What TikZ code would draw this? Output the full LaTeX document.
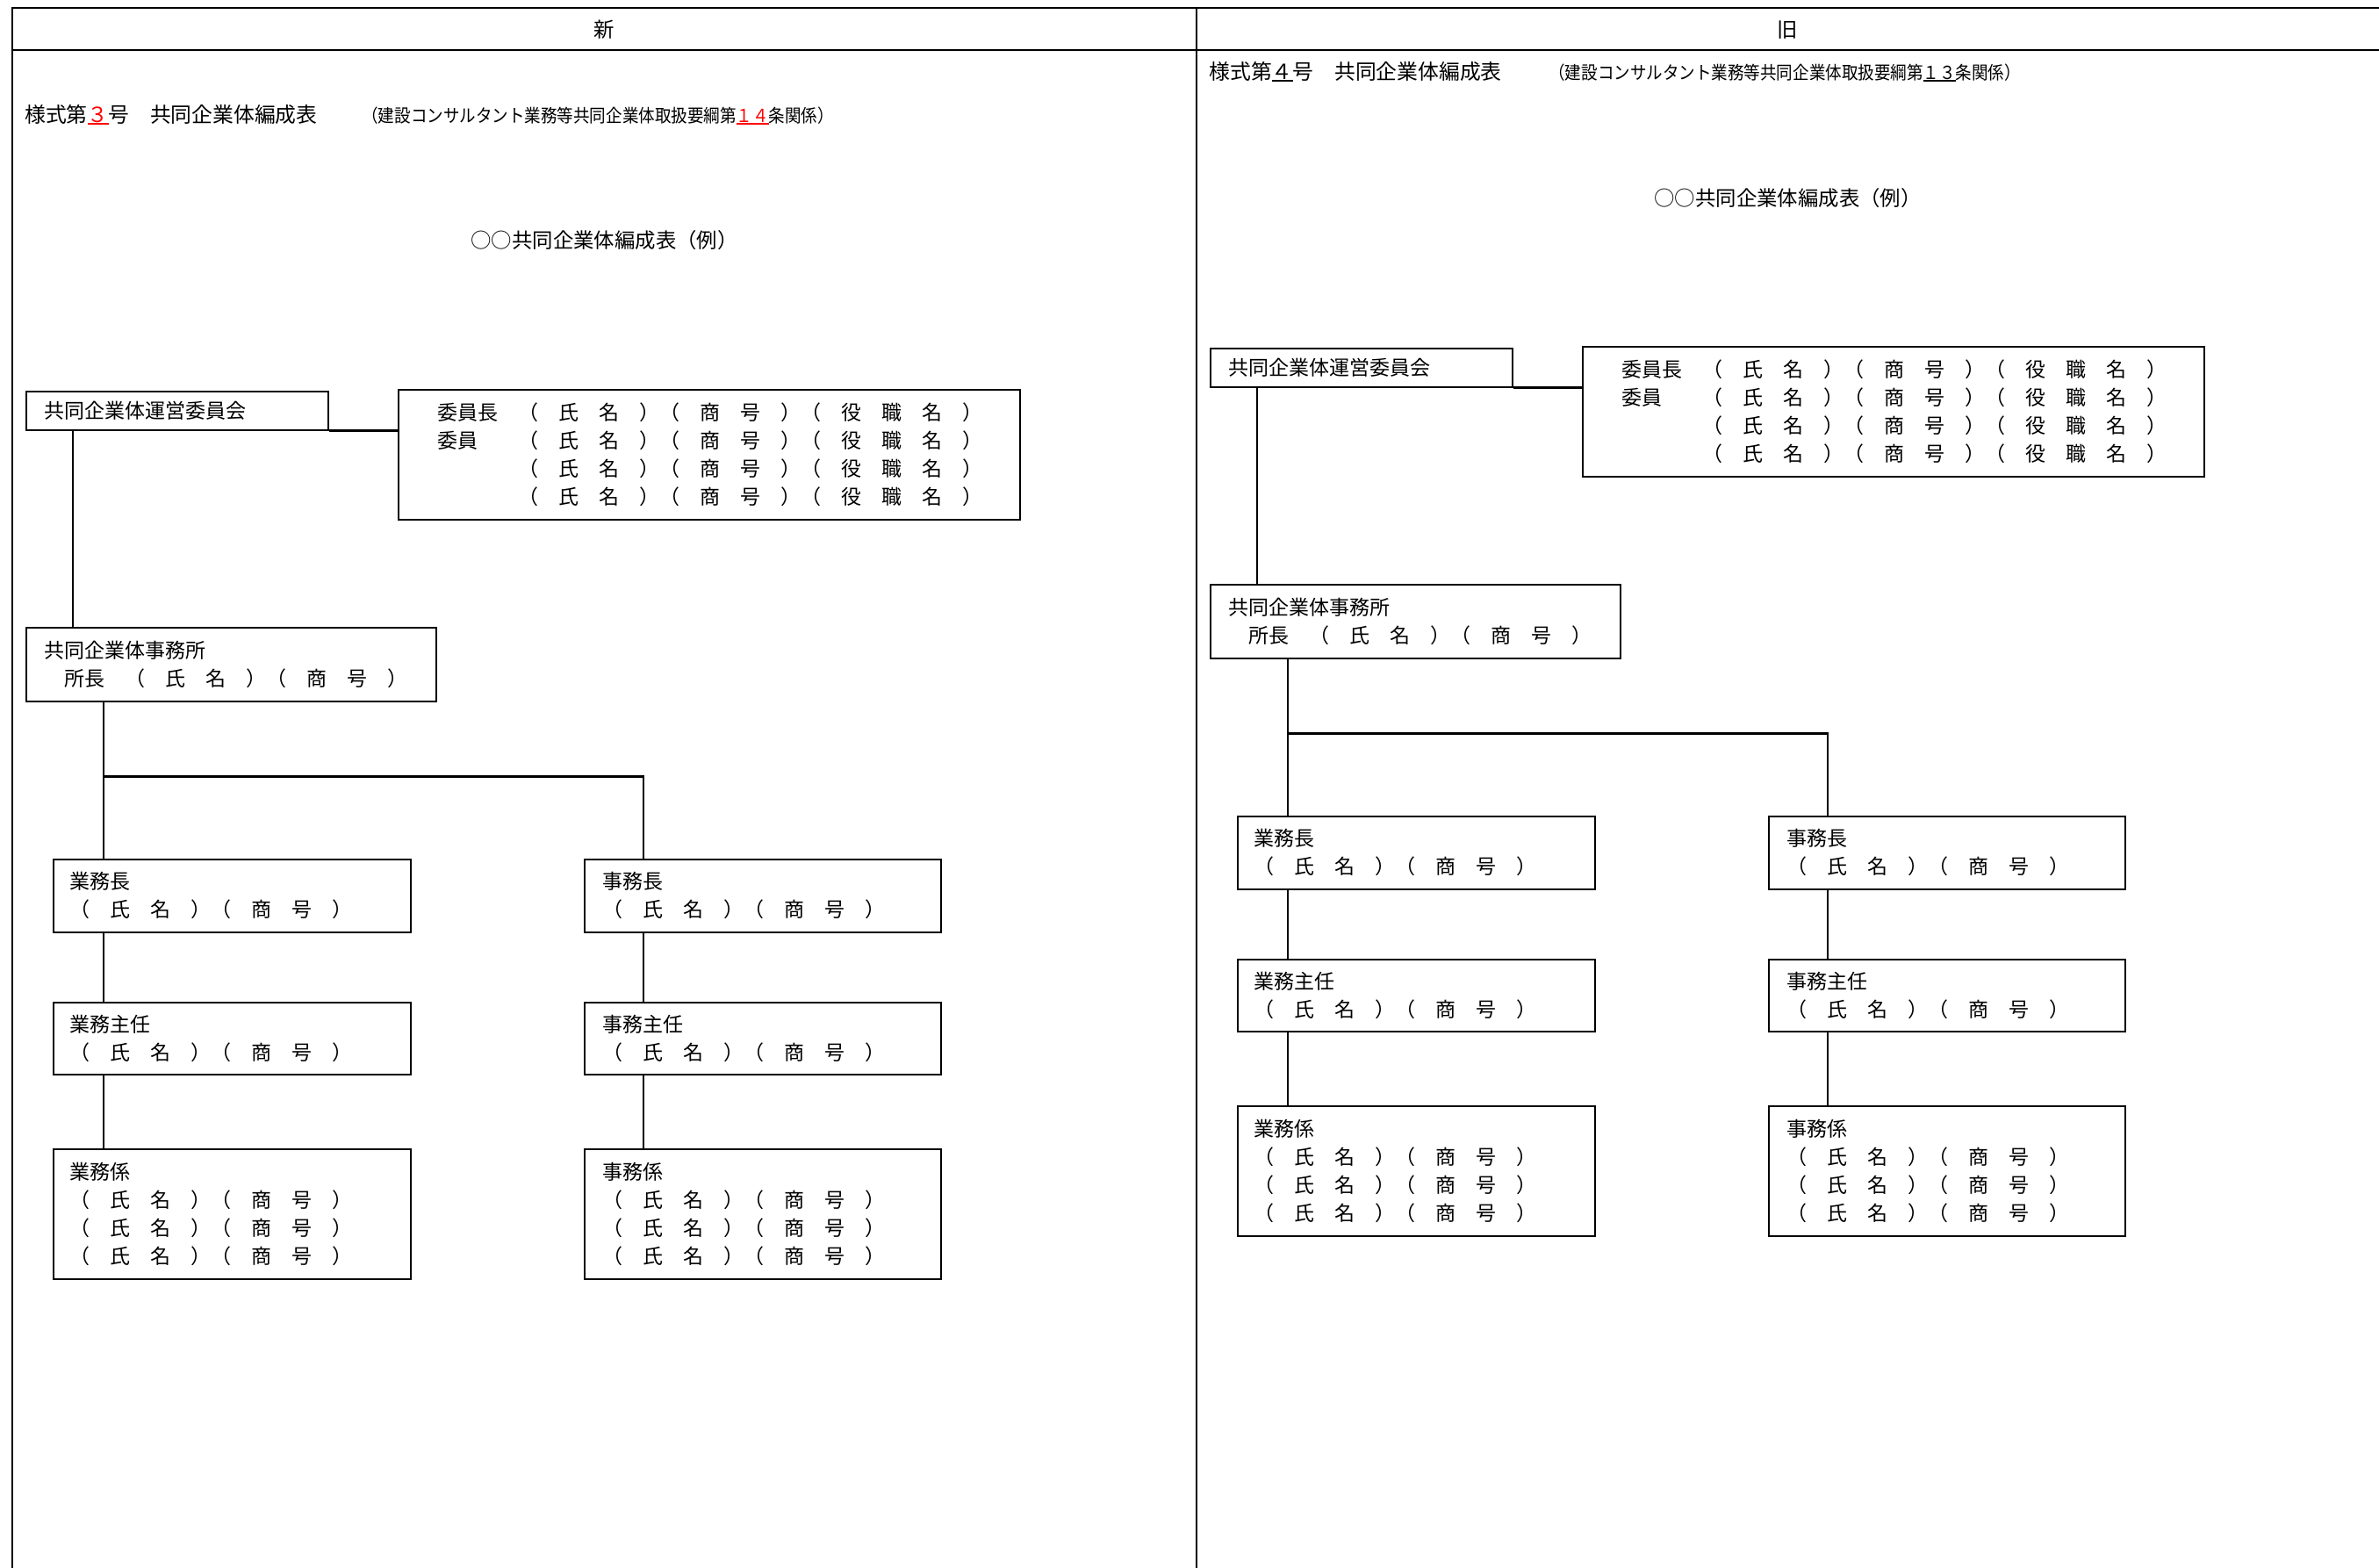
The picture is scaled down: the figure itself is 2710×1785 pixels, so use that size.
\documentclass[tikz,border=0pt]{standalone}
\usepackage{fontspec}
\newfontfamily\jpfont{Noto Sans CJK JP}
\newfontfamily\jpnarrow[FakeStretch=0.9]{Noto Sans CJK JP}
\usetikzlibrary{calc}
\definecolor{markred}{RGB}{255,0,0}
\newcommand\ulmark[1]{\setbox0\hbox{#1}\rlap{\rule[-1.5pt]{\wd0}{0.9pt}}\box0}
\tikzset{
  every node/.style={font=\jpfont\fontsize{11.5pt}{16pt}\selectfont, inner sep=0pt},
  box/.style={draw, line width=0.75pt, anchor=north west, inner sep=0pt},
  btext/.style={anchor=west, align=left},
  framerule/.style={line width=1pt},
  link/.style={line width=1.15pt},
  mainlink/.style={line width=1.4pt},
  heavylink/.style={line width=1.8pt},
  ttl/.style={anchor=base west, font=\jpfont\fontsize{11.9pt}{14pt}\selectfont},
  reftext/.style={anchor=base west, font=\jpnarrow\fontsize{10.3pt}{12pt}\selectfont},
  headtext/.style={anchor=base, font=\jpfont\fontsize{11.7pt}{14pt}\selectfont},
}
\newcommand\orgchart[3]{%
  \node[box, minimum width=172pt, minimum height=22pt] (#1A) at ({29+(#2)},{445+(#3)}) {};
  \node[box, minimum width=354pt, minimum height=74pt] (#1B) at ({453+(#2)},{443+(#3)}) {};
  \node[box, minimum width=233.5pt, minimum height=42pt] (#1C) at ({29+(#2)},{714+(#3)}) {};
  \node[box, minimum width=203.5pt, minimum height=41.5pt] (#1D1) at ({60+(#2)},{978+(#3)}) {};
  \node[box, minimum width=203pt, minimum height=41.5pt] (#1E1) at ({665+(#2)},{978+(#3)}) {};
  \node[box, minimum width=203.5pt, minimum height=41pt] (#1D2) at ({60+(#2)},{1141+(#3)}) {};
  \node[box, minimum width=203pt, minimum height=41pt] (#1E2) at ({665+(#2)},{1141+(#3)}) {};
  \node[box, minimum width=203.5pt, minimum height=74pt] (#1D3) at ({60+(#2)},{1308+(#3)}) {};
  \node[box, minimum width=203pt, minimum height=74pt] (#1E3) at ({665+(#2)},{1308+(#3)}) {};
  %
  \node[btext] (#1At) at ([xshift=10.5pt]#1A.west) {共同企業体運営委員会};
  \node[btext] (#1Bt) at ([xshift=22.5pt]#1B.west) {委員長　（　氏　名　）（　商　号　）（　役　職　名　）\\委員　　（　氏　名　）（　商　号　）（　役　職　名　）\\　　　　（　氏　名　）（　商　号　）（　役　職　名　）\\　　　　（　氏　名　）（　商　号　）（　役　職　名　）};
  \node[btext] (#1Ct) at ([xshift=10.5pt]#1C.west) {共同企業体事務所\\　所長　（　氏　名　）（　商　号　）};
  \node[btext] (#1D1t) at ([xshift=9.5pt]#1D1.west) {業務長\\（　氏　名　）（　商　号　）};
  \node[btext] (#1E1t) at ([xshift=10.5pt]#1E1.west) {事務長\\（　氏　名　）（　商　号　）};
  \node[btext] (#1D2t) at ([xshift=9.5pt]#1D2.west) {業務主任\\（　氏　名　）（　商　号　）};
  \node[btext] (#1E2t) at ([xshift=10.5pt]#1E2.west) {事務主任\\（　氏　名　）（　商　号　）};
  \node[btext] (#1D3t) at ([xshift=9.5pt]#1D3.west) {業務係\\（　氏　名　）（　商　号　）\\（　氏　名　）（　商　号　）\\（　氏　名　）（　商　号　）};
  \node[btext] (#1E3t) at ([xshift=10.5pt]#1E3.west) {事務係\\（　氏　名　）（　商　号　）\\（　氏　名　）（　商　号　）\\（　氏　名　）（　商　号　）};
  %
  \draw[heavylink] (#1A.south east) -- (#1A.south east -| #1B.west);
  \coordinate (#1a) at ([xshift=27pt]#1A.south west);
  \draw[mainlink] (#1a) -- (#1a |- #1C.north);
  \coordinate (#1c) at ([xshift=44.5pt]#1C.south west);
  \draw[link] (#1c) -- (#1c |- #1D1.north);
  \coordinate (#1j) at ([yshift=-42.5pt]#1c);
  \coordinate (#1e) at ([xshift=34pt]#1E1.north west);
  \draw[link] (#1j) -| (#1e);
  \coordinate (#1d1) at ([xshift=29pt]#1D1.south west);
  \draw[link] (#1d1) -- (#1d1 |- #1D2.north);
  \coordinate (#1d2) at ([xshift=29pt]#1D2.south west);
  \draw[link] (#1d2) -- (#1d2 |- #1D3.north);
  \coordinate (#1e1) at ([xshift=34pt]#1E1.south west);
  \draw[link] (#1e1) -- (#1e1 |- #1E2.north);
  \coordinate (#1e2) at ([xshift=34pt]#1E2.south west);
  \draw[link] (#1e2) -- (#1e2 |- #1E3.north);
}
\begin{document}
\begin{tikzpicture}[x=0.5pt, y=-0.5pt]
  \useasboundingbox (0,0) rectangle (2710,1785);
  \clip (0,0) rectangle (2710,1785);
  \fill[white] (0,0) rectangle (2710,1785);
  % frame
  \draw[framerule] (14,1800) -- (14,9) -- (2730,9);
  \draw[framerule] (14,57) -- (2730,57);
  \draw[framerule] (1363,9) -- (1363,1800);
  \node[headtext] (hNew) at (688.5,42) {新};
  \node[headtext] (hOld) at (2036.5,42) {旧};
  % left (new)
  \node[ttl] (lTitle) at (28,139) {様式第\textcolor{markred}{\ulmark{３}}号　共同企業体編成表};
  \node[reftext] (lRef) at (412,139) {（建設コンサルタント業務等共同企業体取扱要綱第\textcolor{markred}{\ulmark{１４}}条関係）};
  \node[headtext] (lSub) at (688.5,282) {○○共同企業体編成表（例）};
  \orgchart{l}{0}{0}
  % right (old)
  \node[ttl] (rTitle) at (1377,90) {様式第\ulmark{４}号　共同企業体編成表};
  \node[reftext] (rRef) at (1764,90) {（建設コンサルタント業務等共同企業体取扱要綱第\ulmark{１３}条関係）};
  \node[headtext] (rSub) at (2036.5,234) {○○共同企業体編成表（例）};
  \orgchart{r}{1349}{-49}
\end{tikzpicture}
\end{document}
